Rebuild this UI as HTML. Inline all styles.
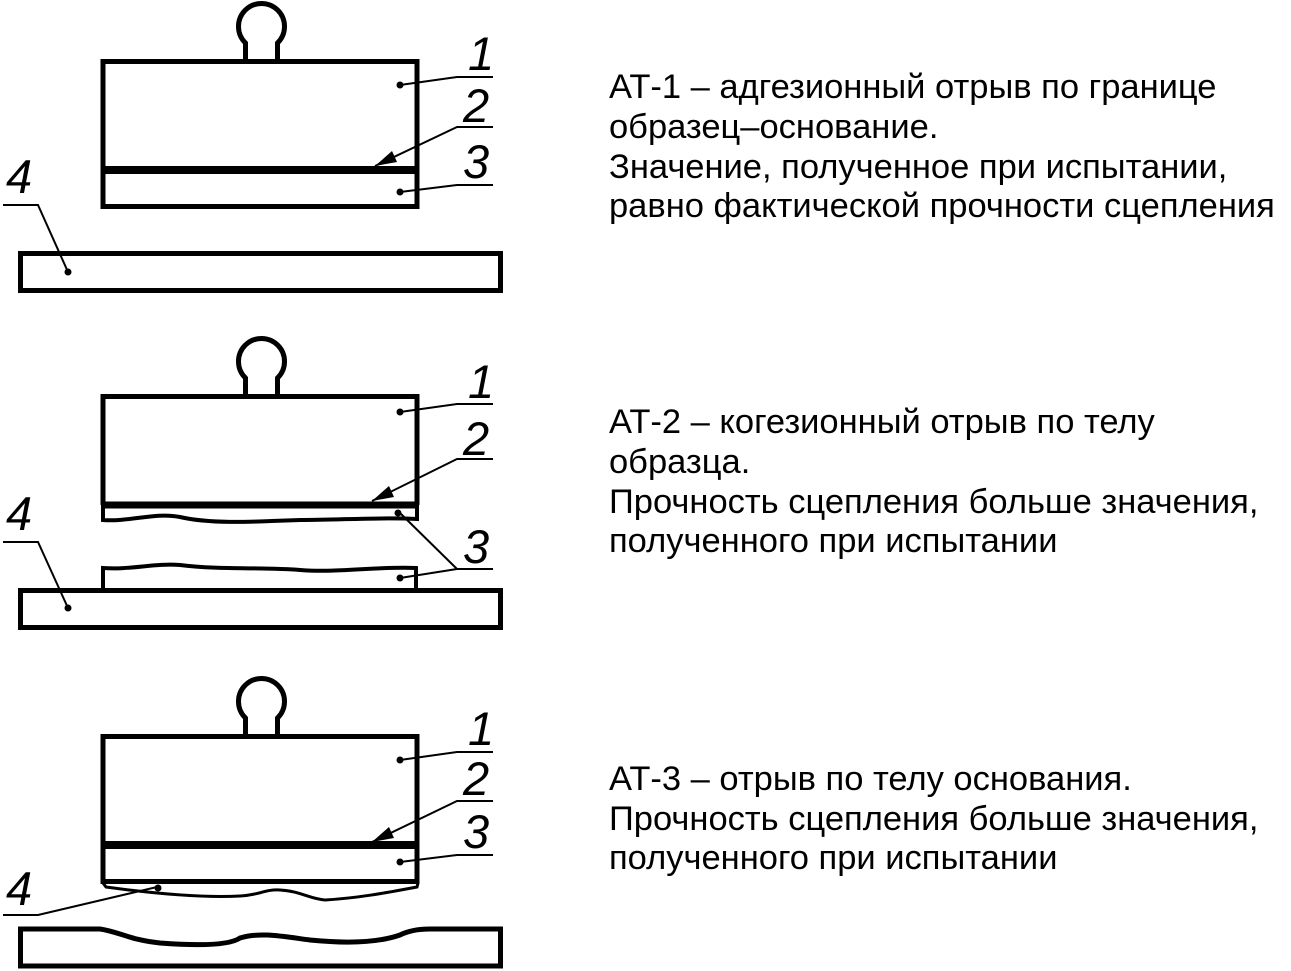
<!DOCTYPE html>
<html><head><meta charset="utf-8"><style>
html,body{margin:0;padding:0;background:#fff;}
svg{display:block}
.t{font-family:"Liberation Sans",sans-serif;font-size:34.5px;fill:#000}
.n{font-family:"Liberation Sans",sans-serif;font-size:47px;font-style:italic;fill:#000}
</style></head><body>
<svg width="1291" height="971" viewBox="0 0 1291 971" xmlns="http://www.w3.org/2000/svg">
<defs>
<g id="knob" fill="none" stroke="#000" stroke-width="5">
<path d="M245.5,61 V43 A23,23 0 1 1 277.5,43 V61"/>
</g>
</defs>

<!-- Panel 1 -->
<g fill="none" stroke="#000">
<use href="#knob"/>
<rect x="103" y="61.5" width="314" height="145" stroke-width="5"/>
<line x1="103" y1="170" x2="417" y2="170" stroke-width="8"/>
<rect x="20.5" y="253.5" width="480" height="37" stroke-width="5"/>
<g stroke-width="2">
<polyline points="400,85 457,77 493,77"/>
<polyline points="493,127 457,127 375,166"/>
<polyline points="400,192 457,185 493,185"/>
<polyline points="3,205 38,205 68,272"/>
</g>
</g>
<path d="M375,166 L392,151 L397,162 z" fill="#000"/>
<g fill="#000"><circle cx="400" cy="85" r="3.5"/><circle cx="400" cy="192" r="3.5"/><circle cx="68" cy="272" r="3.5"/></g>
<text class="n" x="468" y="70">1</text>
<text class="n" x="463" y="122">2</text>
<text class="n" x="463" y="178">3</text>
<text class="n" x="6" y="193">4</text>

<!-- Panel 2 -->
<g fill="none" stroke="#000">
<use href="#knob" y="335"/>
<path d="M103,505 V396.5 H417 V505" stroke-width="5"/>
<line x1="103" y1="505" x2="417" y2="505" stroke-width="7"/>
<path d="M103,505 V520 C130,522 155,512 180,517 C210,524 250,522 300,520 C340,520 380,517 417,519 V505" stroke-width="4"/>
<path d="M103,588 V568 C130,570 155,563 180,565 C220,570 260,567 300,570 C340,573 380,566 416,568 V588" stroke-width="4"/>
<rect x="20.5" y="590.5" width="480" height="37" stroke-width="5"/>
<g stroke-width="2">
<polyline points="400,412 457,404 493,404"/>
<polyline points="493,459 457,459 372,501"/>
<polyline points="400,513 457,569 493,569"/>
<polyline points="400,578 457,569"/>
<polyline points="3,542 38,542 68,608"/>
</g>
</g>
<path d="M372,501 L389,486 L394,497 z" fill="#000"/>
<g fill="#000"><circle cx="400" cy="412" r="3.5"/><circle cx="398" cy="513" r="3.5"/><circle cx="400" cy="578" r="3.5"/><circle cx="68" cy="608" r="3.5"/></g>
<text class="n" x="468" y="398">1</text>
<text class="n" x="463" y="455">2</text>
<text class="n" x="463" y="563">3</text>
<text class="n" x="6" y="530">4</text>

<!-- Panel 3 -->
<g fill="none" stroke="#000">
<use href="#knob" y="675"/>
<rect x="103" y="736.5" width="314" height="145" stroke-width="5"/>
<line x1="103" y1="845" x2="417" y2="845" stroke-width="8"/>
<path d="M103,883 L106,887 C150,893 200,898 240,896 C260,895 265,889 280,890 C300,891 310,899 325,900 C360,898 390,892 417,887 L418,883" stroke-width="3"/>
<path d="M20.5,966 V929 H100 C120,932 130,940 160,943 C200,946 230,945 240,938 C260,932 280,936 310,940 C350,944 380,942 400,935 C410,930 420,929 430,929 H500.5 V966 Z" stroke-width="5"/>
<g stroke-width="2">
<polyline points="400,760 457,752 493,752"/>
<polyline points="493,801 457,801 372,842"/>
<polyline points="400,862 457,855 493,855"/>
<polyline points="3,915 38,915 157,887"/>
</g>
</g>
<path d="M372,842 L389,827 L394,838 z" fill="#000"/>
<g fill="#000"><circle cx="400" cy="760" r="3.5"/><circle cx="400" cy="862" r="3.5"/><circle cx="158" cy="888" r="3.5"/></g>
<text class="n" x="468" y="745">1</text>
<text class="n" x="463" y="795">2</text>
<text class="n" x="463" y="848">3</text>
<text class="n" x="6" y="905">4</text>

<!-- Text -->
<text class="t" x="609" y="98">АТ-1 – адгезионный отрыв по границе</text>
<text class="t" x="609" y="138">образец–основание.</text>
<text class="t" x="609" y="178">Значение, полученное при испытании,</text>
<text class="t" x="609" y="217">равно фактической прочности сцепления</text>
<text class="t" x="609" y="433">АТ-2 – когезионный отрыв по телу</text>
<text class="t" x="609" y="473">образца.</text>
<text class="t" x="609" y="513">Прочность сцепления больше значения,</text>
<text class="t" x="609" y="552">полученного при испытании</text>
<text class="t" x="609" y="790">АТ-3 – отрыв по телу основания.</text>
<text class="t" x="609" y="830">Прочность сцепления больше значения,</text>
<text class="t" x="609" y="869">полученного при испытании</text>
</svg>
</body></html>
